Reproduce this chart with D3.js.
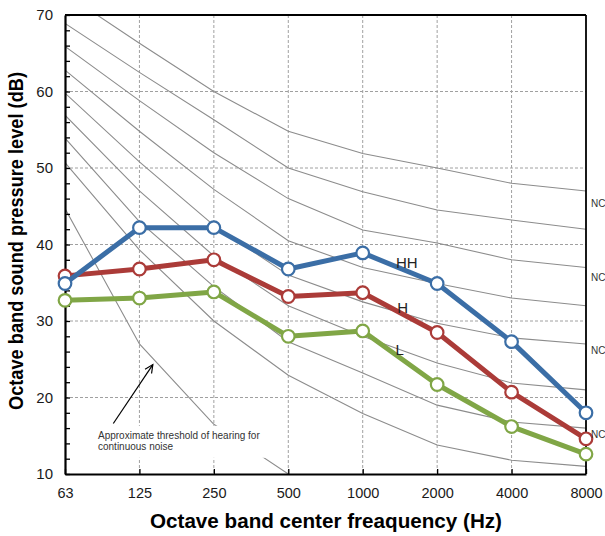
<!DOCTYPE html>
<html><head><meta charset="utf-8">
<script src="https://cdn.jsdelivr.net/npm/d3@7"></script>
<style>body{margin:0;background:#fff;} svg{display:block;font-family:"Liberation Sans",Arial,sans-serif;}</style>
</head><body>
<svg id="c" width="605" height="536"></svg>
<script>
const freqs = ["63","125","250","500","1000","2000","4000","8000"];
const yTicks = [10,20,30,40,50,60,70];
const seriesHH = [34.9, 42.2, 42.2, 36.8, 38.9, 34.9, 27.3, 18.0];
const seriesH  = [35.9, 36.8, 38.0, 33.2, 33.7, 28.5, 20.7, 14.6];
const seriesL  = [32.7, 33.0, 33.8, 28.0, 28.7, 21.7, 16.2, 12.6];
const nc50 = [72.8, 66.3, 60.0, 54.8, 51.9, 50.0, 48.0, 47.0];
const nc45 = [68.9, 62.5, 56.3, 50.0, 46.9, 44.5, 43.2, 42.0];
const nc40 = [65.9, 58.8, 52.0, 46.0, 41.9, 40.2, 38.0, 37.0];
const nc35 = [62.8, 54.8, 47.2, 40.5, 37.0, 34.9, 33.0, 32.0];
const nc30 = [59.8, 50.8, 42.5, 36.0, 32.5, 29.7, 27.8, 27.0];
const nc25 = [56.9, 47.0, 38.5, 32.0, 28.0, 24.5, 21.9, 21.0];
const nc20 = [53.9, 43.0, 34.5, 27.3, 23.2, 19.0, 16.8, 16.0];
const nc15 = [50.7, 39.3, 30.0, 22.9, 17.9, 13.8, 11.8, 11.0];
const threshold = [44.7, 27.0, 16.5, 10.0];
const ncLabelLevels = [45.3, 35.7, 26.1, 15.2];
const seriesNames = ["HH","H","L"];
const labelLevels = [37.6, 31.7, 26.3];

const svg = d3.select("#c");
const L = 65, R = 586, T = 15, B = 474;
const x = d3.scalePoint().domain(freqs).range([L, R]).padding(0);
const y = d3.scaleLinear().domain([10, 70]).range([B, T]);

// clip
svg.append("defs").append("clipPath").attr("id","pc")
  .append("rect").attr("x",L).attr("y",T).attr("width",R-L).attr("height",B-T);

// grid
const grid = svg.append("g").attr("stroke","#a0a0a0").attr("stroke-width",1).attr("stroke-dasharray","3,2");
grid.selectAll("line.h").data(yTicks.filter(v => v>10 && v<70)).join("line")
  .attr("x1",L).attr("x2",R).attr("y1",d=>y(d)).attr("y2",d=>y(d));
grid.selectAll("line.v").data(freqs.slice(1,-1)).join("line")
  .attr("y1",T).attr("y2",B).attr("x1",d=>x(d)).attr("x2",d=>x(d));

// NC curves
const ncLine = d3.line().x((d,i)=>x(freqs[i])).y(d=>y(d));
const ncG = svg.append("g").attr("clip-path","url(#pc)");
ncG.selectAll("path").data([nc50,nc45,nc40,nc35,nc30,nc25,nc20,nc15]).join("path")
  .attr("d",ncLine).attr("fill","none").attr("stroke","#8c8c8c").attr("stroke-width",1.1);
ncG.append("path").attr("d",ncLine(threshold)).attr("fill","none").attr("stroke","#8c8c8c").attr("stroke-width",1.1);

// annotation box
const ax0 = x("63") + 30, ay0 = y(16.3);
svg.append("rect").attr("x",ax0).attr("y",ay0).attr("width",173).attr("height",32).attr("fill","#fff");
const ann = svg.append("text").attr("font-size",10).attr("fill","#333");
ann.append("tspan").attr("x",ax0+3).attr("y",ay0+13).text("Approximate threshold of hearing for");
ann.append("tspan").attr("x",ax0+3).attr("y",ay0+24).text("continuous noise");

// arrow
const sx = x("63")+48.3, sy = y(16.6), ex = x("125")+13.4, ey = y(24.3);
svg.append("line").attr("x1",sx).attr("y1",sy).attr("x2",ex).attr("y2",ey).attr("stroke","#000").attr("stroke-width",1.2);
const ang = Math.atan2(ey-sy, ex-sx);
const hl = 9, ha = 0.45;
svg.append("path").attr("fill","none").attr("stroke","#000").attr("stroke-width",1.2)
  .attr("d", `M${ex-hl*Math.cos(ang-ha)},${ey-hl*Math.sin(ang-ha)}L${ex},${ey}L${ex-hl*Math.cos(ang+ha)},${ey-hl*Math.sin(ang+ha)}`);

// axes
const yAxis = d3.axisLeft(y).tickValues(d3.range(10,71,2)).tickSizeInner(-5).tickSizeOuter(0).tickPadding(12)
  .tickFormat(d => d%10===0 ? d : "");
const gy = svg.append("g").attr("transform",`translate(${L},0)`).call(yAxis);
gy.selectAll("text").attr("font-size",15).attr("fill","#1a1a1a").attr("font-family","Liberation Sans, Arial, sans-serif");
gy.select(".domain").attr("stroke-width",2.2);
gy.selectAll(".tick line").attr("stroke-width",1.3);

const xAxis = d3.axisBottom(x).tickSizeInner(-5).tickSizeOuter(0).tickPadding(14);
const gx = svg.append("g").attr("transform",`translate(0,${B})`).call(xAxis);
gx.selectAll("text").attr("font-size",14.5).attr("fill","#1a1a1a").attr("font-family","Liberation Sans, Arial, sans-serif");
gx.select(".domain").attr("stroke-width",2.2);
gx.selectAll(".tick line").attr("stroke-width",1.3);

// frame top/right
svg.append("line").attr("x1",L).attr("x2",R).attr("y1",T).attr("y2",T).attr("stroke","#000").attr("stroke-width",1.8);
svg.append("line").attr("x1",R).attr("x2",R).attr("y1",T).attr("y2",B).attr("stroke","#000").attr("stroke-width",1.8);

// series
const colors = ["#3b6ea6","#ab3b38","#80a646"];
const data = [seriesHH, seriesH, seriesL];
const sLine = d3.line().x((d,i)=>x(freqs[i])).y(d=>y(d));
[2,1,0].forEach(k => {
  const g = svg.append("g");
  g.append("path").attr("d",sLine(data[k])).attr("fill","none").attr("stroke",colors[k])
    .attr("stroke-width",5).attr("stroke-linejoin","round");
  g.selectAll("circle").data(data[k]).join("circle")
    .attr("cx",(d,i)=>x(freqs[i])).attr("cy",d=>y(d)).attr("r",6.3)
    .attr("fill","#fff").attr("stroke",colors[k]).attr("stroke-width",2.2);
});

// series labels
const labelX = [x("1000")+44, x("1000")+40, x("1000")+37];
svg.selectAll("text.sl").data(seriesNames).join("text").attr("class","sl")
  .attr("x",(d,i)=>labelX[i]).attr("y",(d,i)=>y(labelLevels[i])).attr("dy","0.35em")
  .attr("text-anchor","middle").attr("font-size",15).attr("fill","#222").text(d=>d);

// NC labels
svg.selectAll("text.nc").data(ncLabelLevels).join("text").attr("class","nc")
  .attr("x",R+5).attr("y",d=>y(d)).attr("dy","0.35em").attr("font-size",10).attr("fill","#333").text("NC");

// axis titles
svg.append("text").attr("transform",`translate(23,241) rotate(-90)`).attr("text-anchor","middle")
  .attr("font-size",20).attr("font-weight","bold").attr("fill","#000")
  .attr("textLength",338).attr("lengthAdjust","spacingAndGlyphs")
  .text("Octave band sound pressure level (dB)");
svg.append("text").attr("x",326).attr("y",528).attr("text-anchor","middle")
  .attr("font-size",20).attr("font-weight","bold").attr("fill","#000")
  .attr("textLength",352).attr("lengthAdjust","spacingAndGlyphs")
  .text("Octave band center freaquency (Hz)");
</script>
</body></html>
